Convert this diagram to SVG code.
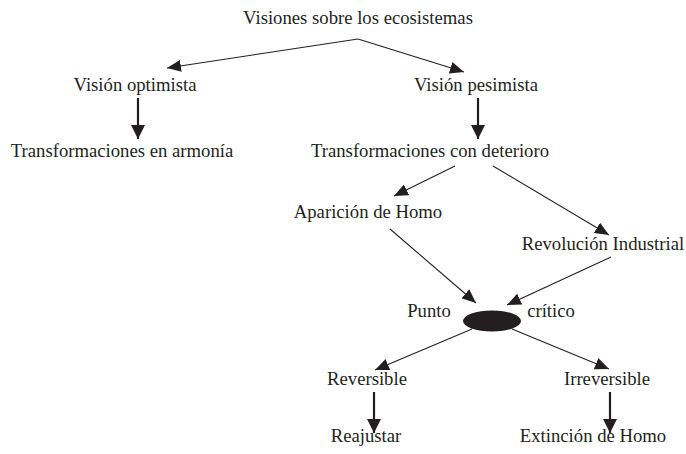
<svg xmlns="http://www.w3.org/2000/svg" width="686" height="454" viewBox="0 0 686 454">
<style>
text{font-family:"Liberation Serif","Times New Roman",serif;font-size:18.7px;fill:#231f20;text-anchor:middle}
.c line{stroke:#231f20;stroke-width:1.1;marker-end:url(#a)}
.c line.v{stroke-width:2.2;marker-end:url(#b)}
</style>
<defs>
<marker id="a" markerUnits="userSpaceOnUse" viewBox="0 0 14 12" markerWidth="14" markerHeight="12" refX="14" refY="6" orient="auto"><path d="M0,0L14,6L0,12Z" fill="#231f20"/></marker>
<marker id="b" markerUnits="userSpaceOnUse" viewBox="0 0 14 14" markerWidth="14" markerHeight="14" refX="14" refY="7" orient="auto"><path d="M0,0L14,7L0,14Z" fill="#231f20"/></marker>
</defs>
<rect width="686" height="454" fill="#fff"/>
<g class="c" id="connectors">
<line x1="358" y1="39" x2="167" y2="68"/>
<line x1="358" y1="39" x2="464" y2="72"/>
<line class="v" x1="138" y1="98" x2="138" y2="139"/>
<line class="v" x1="478" y1="98" x2="478" y2="139"/>
<line x1="455" y1="166" x2="394" y2="196"/>
<line x1="493" y1="166" x2="609" y2="235"/>
<line x1="390" y1="229" x2="476" y2="303"/>
<line x1="611" y1="257" x2="507" y2="305"/>
<line x1="472" y1="329" x2="375" y2="370"/>
<line x1="512" y1="329" x2="609" y2="369"/>
<line class="v" x1="374" y1="392" x2="374" y2="433"/>
<line class="v" x1="610" y1="392" x2="610" y2="433"/>
</g>
<g id="n1"><text x="358" y="24">Visiones sobre los ecosistemas</text></g>
<g id="n2"><text x="135" y="91">Visión optimista</text></g>
<g id="n3"><text x="476" y="91">Visión pesimista</text></g>
<g id="n4"><text x="122" y="157">Transformaciones en armonía</text></g>
<g id="n5"><text x="430" y="157">Transformaciones con deterioro</text></g>
<g id="n6"><text x="368" y="218">Aparición de Homo</text></g>
<g id="n7"><text x="603" y="250">Revolución Industrial</text></g>
<g id="n8"><ellipse cx="492" cy="321" rx="29" ry="10.5" fill="#231f20"/><text x="429" y="317">Punto</text><text x="551" y="317">crítico</text></g>
<g id="n9"><text x="367" y="385">Reversible</text></g>
<g id="n10"><text x="607" y="385">Irreversible</text></g>
<g id="n11"><text x="366" y="442">Reajustar</text></g>
<g id="n12"><text x="593" y="442">Extinción de Homo</text></g>
</svg>
